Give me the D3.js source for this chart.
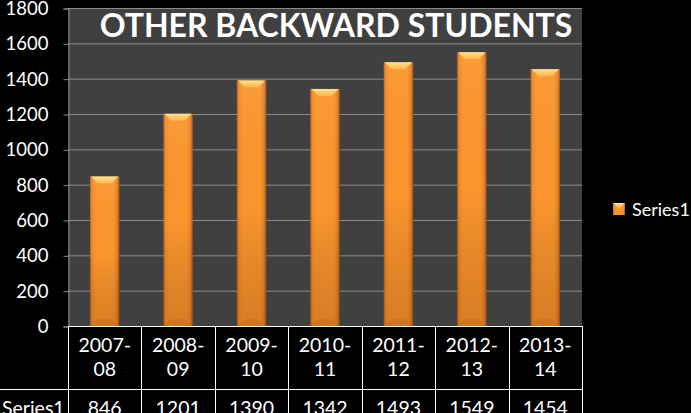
<!DOCTYPE html>
<html>
<head>
<meta charset="utf-8">
<script src="https://cdn.jsdelivr.net/npm/d3@7"></script>
<style>
  html, body { margin: 0; padding: 0; background: #000; }
  svg { display: block; }
  text { font-family: Lato, "Open Sans", sans-serif; fill: #fff; }
</style>
</head>
<body>
<script>
// chart data
var categories = ["2007-08", "2008-09", "2009-10", "2010-11", "2011-12", "2012-13", "2013-14"];
var values = [846, 1201, 1390, 1342, 1493, 1549, 1454];
var yTicks = [0, 200, 400, 600, 800, 1000, 1200, 1400, 1600, 1800];
var seriesName = "Series1";
var title = "OTHER BACKWARD STUDENTS";

var W = 691, H = 413;
var pLeft = 68, pRight = 582, pTop = 8, pBottom = 326;

var svg = d3.select("body").append("svg")
  .attr("width", W)
  .attr("height", H);

var defs = svg.append("defs");

var body = defs.append("linearGradient").attr("id", "barBody")
  .attr("x1", 0).attr("x2", 1).attr("y1", 0).attr("y2", 0);
[[0, "#b8621a"], [0.07, "#f28c28"], [0.2, "#fb962e"], [0.8, "#fb962e"], [0.92, "#e8822a"], [1, "#a0540f"]]
  .forEach(function (s) { body.append("stop").attr("offset", s[0]).attr("stop-color", s[1]); });

var shade = defs.append("linearGradient").attr("id", "barShade")
  .attr("x1", 0).attr("x2", 0).attr("y1", 0).attr("y2", 1);
shade.append("stop").attr("offset", 0).attr("stop-color", "#fff").attr("stop-opacity", 0.05);
shade.append("stop").attr("offset", 0.5).attr("stop-color", "#000").attr("stop-opacity", 0);
shade.append("stop").attr("offset", 1).attr("stop-color", "#6a2a00").attr("stop-opacity", 0.22);

var bevel = defs.append("linearGradient").attr("id", "barTop")
  .attr("x1", 0).attr("x2", 0).attr("y1", 0).attr("y2", 1);
bevel.append("stop").attr("offset", 0).attr("stop-color", "#ffe390");
bevel.append("stop").attr("offset", 1).attr("stop-color", "#ffb445");

var x = d3.scaleBand().domain(categories).range([pLeft, pRight]).paddingInner(0.6).paddingOuter(0.3);
var xCol = d3.scaleBand().domain(categories).range([pLeft, pRight]);
var y = d3.scaleLinear().domain([0, 1800]).range([pBottom, pTop]);

// plot background
svg.append("rect")
  .attr("x", pLeft).attr("y", pTop)
  .attr("width", pRight - pLeft).attr("height", pBottom - pTop)
  .attr("fill", "#404040");

// grid lines
svg.append("g").selectAll("line")
  .data(yTicks.filter(function (d) { return d > 0; }))
  .join("line")
  .attr("x1", pLeft).attr("x2", pRight)
  .attr("y1", function (d) { return y(d) + 0.5; })
  .attr("y2", function (d) { return y(d) + 0.5; })
  .attr("stroke", "#8c8c8c").attr("stroke-width", 1);

// y axis
var yAxis = svg.append("g")
  .attr("transform", "translate(" + (pLeft + 0.5) + ",0.5)")
  .call(d3.axisLeft(y).tickValues(yTicks).tickFormat(d3.format("d")).tickSize(5).tickPadding(15));
yAxis.select(".domain").attr("stroke", "#8c8c8c");
yAxis.selectAll(".tick line").attr("stroke", "#8c8c8c");
yAxis.selectAll("text")
  .attr("fill", "#fff").style("font-size", "18.5px")
  .style("font-family", "Lato, 'Open Sans', sans-serif");

// bars
var bars = svg.append("g").selectAll("g")
  .data(values)
  .join("g");

bars.append("rect")
  .attr("x", function (d, i) { return x(categories[i]); })
  .attr("y", function (d) { return y(d); })
  .attr("width", x.bandwidth())
  .attr("height", function (d) { return y(0) - y(d); })
  .attr("fill", "url(#barBody)");

bars.append("rect")
  .attr("x", function (d, i) { return x(categories[i]); })
  .attr("y", function (d) { return y(d); })
  .attr("width", x.bandwidth())
  .attr("height", function (d) { return y(0) - y(d); })
  .attr("fill", "url(#barShade)");

var bv = 7;
bars.append("polygon")
  .attr("points", function (d, i) {
    var x0 = x(categories[i]), x1 = x0 + x.bandwidth(), yt = y(d);
    return [[x0 + 1, yt], [x1 - 1, yt], [x1 - bv - 1, yt + bv], [x0 + bv + 1, yt + bv]].join(" ");
  })
  .attr("fill", "url(#barTop)");

bars.append("polygon")
  .attr("points", function (d, i) {
    var x0 = x(categories[i]), x1 = x0 + x.bandwidth(), yb = y(0);
    return [[x0 + 1, yb], [x1 - 1, yb], [x1 - bv - 1, yb - bv], [x0 + bv + 1, yb - bv]].join(" ");
  })
  .attr("fill", "#c06a1c").attr("opacity", 0.45);

// title
var t = svg.append("text")
  .attr("x", 336).attr("y", 37)
  .attr("text-anchor", "middle")
  .style("font-size", "32px").style("font-weight", "bold")
  .text(title);
var tw = t.node().getComputedTextLength();
t.style("font-size", (32 * 472 / tw).toFixed(1) + "px");

// data table
var table = svg.append("g");
var rowMid = 389;
table.append("line")
  .attr("x1", pLeft).attr("x2", pRight).attr("y1", pBottom + 0.5).attr("y2", pBottom + 0.5)
  .attr("stroke", "#fff");
table.append("line")
  .attr("x1", 0).attr("x2", pRight).attr("y1", rowMid + 0.5).attr("y2", rowMid + 0.5)
  .attr("stroke", "#fff");
table.selectAll(".vline")
  .data(categories.concat(["end"]))
  .join("line")
  .attr("class", "vline")
  .attr("x1", function (d, i) { return Math.round(pLeft + i * xCol.bandwidth()) + 0.5; })
  .attr("x2", function (d, i) { return Math.round(pLeft + i * xCol.bandwidth()) + 0.5; })
  .attr("y1", pBottom).attr("y2", H)
  .attr("stroke", "#fff");

var catText = table.selectAll(".cat")
  .data(categories)
  .join("text")
  .attr("class", "cat")
  .attr("text-anchor", "middle")
  .style("font-size", "19.5px");
catText.append("tspan")
  .attr("x", function (d) { return xCol(d) + xCol.bandwidth() / 2; })
  .attr("y", 352)
  .text(function (d) { return d.split("-")[0] + "-"; });
catText.append("tspan")
  .attr("x", function (d) { return xCol(d) + xCol.bandwidth() / 2; })
  .attr("y", 376)
  .text(function (d) { return d.split("-")[1]; });

table.selectAll(".val")
  .data(values)
  .join("text")
  .attr("class", "val")
  .attr("text-anchor", "middle")
  .attr("x", function (d, i) { return xCol(categories[i]) + xCol.bandwidth() / 2; })
  .attr("y", 415)
  .style("font-size", "19.5px")
  .text(function (d) { return d; });

table.append("text")
  .attr("x", 2).attr("y", 415)
  .style("font-size", "19.5px")
  .text(seriesName);

// legend
var lg = svg.append("g").attr("transform", "translate(613,203)");
lg.append("rect").attr("width", 12).attr("height", 12).attr("fill", "url(#barBody)");
lg.append("polygon").attr("points", "0,0 12,0 6,6").attr("fill", "url(#barTop)");
lg.append("text").attr("x", 19).attr("y", 13).style("font-size", "18px").text(seriesName);
</script>
</body>
</html>
